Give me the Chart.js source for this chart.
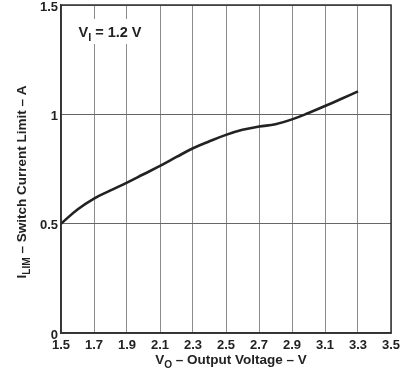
<!DOCTYPE html>
<html><head><meta charset="utf-8">
<script src="https://cdn.jsdelivr.net/npm/chart.js@4/dist/chart.umd.min.js"></script>
<style>html,body{margin:0;padding:0;background:#fff;}#wrap{width:403px;height:374px;}</style>
</head><body><div id="wrap"><canvas id="c" width="403" height="374"></canvas></div>
<script>
const outputVoltage = [1.5, 1.6, 1.7, 1.8, 1.9, 2.0, 2.1, 2.2, 2.3, 2.4, 2.5, 2.6, 2.7, 2.8, 2.9, 3.0, 3.1, 3.2, 3.3];
const switchCurrentLimit = [0.5, 0.565, 0.615, 0.652, 0.688, 0.726, 0.764, 0.805, 0.845, 0.877, 0.906, 0.929, 0.944, 0.955, 0.977, 1.006, 1.038, 1.071, 1.105];
const xTickValues = [1.5, 1.7, 1.9, 2.1, 2.3, 2.5, 2.7, 2.9, 3.1, 3.3, 3.5];
const yTickValues = [0, 0.5, 1, 1.5];
const xTitleParts = [["V", false], ["O", true], [" \u2013 Output Voltage \u2013 V", false]];
const yTitleParts = [["I", false], ["LIM", true], [" \u2013 Switch Current Limit \u2013 A", false]];
const annotationParts = [["V", false], ["I", true], [" = 1.2 V", false]];

const FONT = '"Liberation Sans", Arial, sans-serif';
function richWidth(ctx, parts, size) {
  let w = 0;
  for (const [t, sub] of parts) { ctx.font = 'bold ' + (sub ? size * 0.75 : size) + 'px ' + FONT; w += ctx.measureText(t).width; }
  return w;
}
function drawRich(ctx, parts, cx, baseline, size) {
  const w = richWidth(ctx, parts, size);
  let x = cx - w / 2;
  ctx.textAlign = 'left'; ctx.textBaseline = 'alphabetic';
  for (const [t, sub] of parts) {
    ctx.font = 'bold ' + (sub ? size * 0.75 : size) + 'px ' + FONT;
    ctx.fillText(t, x, baseline + (sub ? size * 0.3 : 0));
    x += ctx.measureText(t).width;
  }
}

const decor = {
  id: 'decor',
  beforeDatasetsDraw(chart) {
    const ctx = chart.ctx;
    ctx.save();
    ctx.fillStyle = '#fff';
    ctx.fillRect(72, 19, 80, 25);
    ctx.fillStyle = '#222';
    drawRich(ctx, annotationParts, 110, 37, 14.5);
    ctx.restore();
  },
  afterDraw(chart) {
    const ctx = chart.ctx, a = chart.chartArea;
    ctx.save();
    ctx.strokeStyle = '#333'; ctx.lineWidth = 1.5;
    ctx.strokeRect(a.left, a.top, a.right - a.left, a.bottom - a.top);
    ctx.fillStyle = '#222';
    drawRich(ctx, xTitleParts, 231, 364, 13.5);
    ctx.translate(26, 182);
    ctx.rotate(-Math.PI / 2);
    drawRich(ctx, yTitleParts, 0, 0, 13.5);
    ctx.restore();
  }
};

new Chart(document.getElementById('c'), {
  type: 'line',
  data: {
    datasets: [{
      data: outputVoltage.map((x, i) => ({ x: x, y: switchCurrentLimit[i] })),
      borderColor: '#222', borderWidth: 2.6, pointRadius: 0, tension: 0.4, fill: false
    }]
  },
  options: {
    responsive: false, animation: false, maintainAspectRatio: false,
    layout: { padding: { top: 5, right: 12, left: 0, bottom: 0 } },
    plugins: { legend: { display: false }, tooltip: { enabled: false } },
    scales: {
      x: {
        type: 'linear', min: 1.5, max: 3.5,
        afterBuildTicks(s) { s.ticks = xTickValues.map(v => ({ value: v })); },
        afterFit(s) { s.height = 41; s.paddingLeft = 0; s.paddingRight = 0; },
        grid: { color: '#8c8c8c', lineWidth: 1, drawTicks: false },
        border: { color: '#333', width: 1.5 },
        ticks: { color: '#222', padding: 5, maxRotation: 0, autoSkip: false,
          font: { family: FONT, size: 13, weight: 'bold' },
          callback: v => Number(v).toFixed(1) }
      },
      y: {
        type: 'linear', min: 0, max: 1.5,
        afterBuildTicks(s) { s.ticks = yTickValues.map(v => ({ value: v })); },
        afterFit(s) { s.width = 61; s.paddingTop = 0; s.paddingBottom = 0; },
        grid: { color: '#666', lineWidth: 1, drawTicks: false },
        border: { color: '#333', width: 1.5 },
        ticks: { color: '#222', padding: 3, labelOffset: 2,
          font: { family: FONT, size: 13, weight: 'bold' },
          callback: v => String(v) }
      }
    }
  },
  plugins: [decor]
});
</script></body></html>
